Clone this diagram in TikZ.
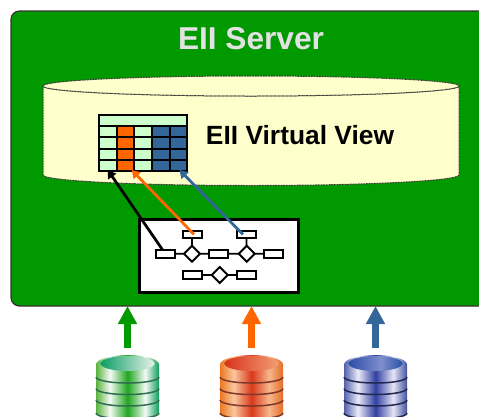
\documentclass[tikz,border=0pt]{standalone}
\usepackage{fontspec}
\setmainfont{Liberation Sans}
\usetikzlibrary{arrows.meta,shapes.geometric}
\definecolor{servergreen}{HTML}{009900}
\definecolor{viewyellow}{HTML}{FFFFCC}
\definecolor{palegreen}{HTML}{CCFFCC}
\definecolor{titlegray}{HTML}{E2E2E2}
\definecolor{orangefill}{HTML}{FF6600}
\definecolor{bluefill}{HTML}{336699}
\definecolor{bandgreen}{HTML}{2F6F50}
\definecolor{bandorange}{HTML}{803828}
\definecolor{bandblue}{HTML}{20284F}
\pgfdeclarehorizontalshading{dbGreenBody}{100bp}{rgb(0bp)=(0.35,0.70,0.25); rgb(25bp)=(0.35,0.70,0.25); rgb(36bp)=(0.96,0.98,0.96); rgb(50bp)=(0.12,0.65,0.12); rgb(64bp)=(0.96,0.98,0.96); rgb(75bp)=(0.05,0.62,0.35); rgb(100bp)=(0.05,0.62,0.35)}
\pgfdeclarehorizontalshading{dbGreenLid}{100bp}{rgb(0bp)=(0.05,0.62,0.40); rgb(25bp)=(0.05,0.62,0.40); rgb(75bp)=(0.90,0.95,0.90); rgb(100bp)=(0.90,0.95,0.90)}
\pgfdeclarehorizontalshading{dbOrangeBody}{100bp}{rgb(0bp)=(0.93,0.47,0.13); rgb(25bp)=(0.93,0.47,0.13); rgb(36bp)=(0.98,0.78,0.62); rgb(50bp)=(0.85,0.22,0.10); rgb(64bp)=(0.97,0.72,0.55); rgb(75bp)=(0.90,0.42,0.15); rgb(100bp)=(0.90,0.42,0.15)}
\pgfdeclarehorizontalshading{dbOrangeLid}{100bp}{rgb(0bp)=(0.85,0.20,0.12); rgb(25bp)=(0.85,0.20,0.12); rgb(75bp)=(0.95,0.62,0.45); rgb(100bp)=(0.95,0.62,0.45)}
\pgfdeclarehorizontalshading{dbBlueBody}{100bp}{rgb(0bp)=(0.32,0.38,0.68); rgb(25bp)=(0.32,0.38,0.68); rgb(36bp)=(0.92,0.92,0.97); rgb(50bp)=(0.19,0.25,0.63); rgb(64bp)=(0.90,0.90,0.96); rgb(75bp)=(0.25,0.32,0.63); rgb(100bp)=(0.25,0.32,0.63)}
\pgfdeclarehorizontalshading{dbBlueLid}{100bp}{rgb(0bp)=(0.18,0.30,0.66); rgb(25bp)=(0.18,0.30,0.66); rgb(55bp)=(0.50,0.56,0.80); rgb(75bp)=(0.16,0.32,0.66); rgb(100bp)=(0.16,0.32,0.66)}
\tikzset{
  flat/.style={rectangle, inner sep=0pt, outer sep=0pt, anchor=north west},
  cellpale/.style={flat, fill=palegreen, minimum width=3.1mm, minimum height=1.86mm},
  cellorange/.style={cellpale, fill=orangefill},
  cellblue/.style={cellpale, fill=bluefill},
  smallbox/.style={flat, draw, fill=white, line width=0.4mm, minimum width=3.8mm, minimum height=1.5mm},
  smalldia/.style={diamond, draw, fill=white, line width=0.4mm, inner sep=0pt, outer sep=0pt, aspect=1, minimum width=3.2mm, minimum height=3.2mm},
  link/.style={line width=0.35mm},
  band/.style={line width=0.3mm},
  thinarrow/.style={line width=0.55mm, -{Triangle[length=1.6mm, width=1.9mm]}},
  bigarrow/.style={line width=1.3mm, shorten <=1.4mm, -{Triangle[length=3.6mm, width=3.6mm]}},
  viewline/.style={draw=black!80, line width=0.2mm, dash pattern=on 0.2mm off 0.12mm}
}
\begin{document}
\begin{tikzpicture}[x=0.2mm, y=-0.2mm]
\useasboundingbox (0,0) rectangle (479,416);

\node (rectServer) [flat, draw=black!80, fill=servergreen, rounded corners=1.7mm, line width=0.25mm, minimum width=96mm, minimum height=59mm] at (11,11) {};
\node (titleServer) [text=titlegray, font=\fontsize{18}{20}\selectfont\bfseries] at (251,39) {EII Server};

% virtual view
\path [viewline, fill=viewyellow] (43,86) -- (43,175) arc[start angle=180, end angle=0, x radius=208, y radius=10.5] -- (459,86) arc[start angle=0, end angle=180, x radius=208, y radius=10] -- cycle;
\path [viewline, fill=viewyellow] (251,86) ellipse [x radius=208, y radius=10];
\node (titleView) [font=\fontsize{15}{18}\selectfont\bfseries] at (300,135) {EII Virtual View};

% table
\node (rectTable) [flat, fill=black, minimum width=18mm, minimum height=11.6mm] at (98,114) {};
\node (rectHead) [cellpale, minimum width=17.2mm, minimum height=1.8mm] at (100,116) {};
\node (cellA0) [cellpale] at (100,127) {};
\node (cellB0) [cellorange] at (117.7,127) {};
\node (cellC0) [cellpale] at (135.3,127) {};
\node (cellD0) [cellblue] at (153,127) {};
\node (cellE0) [cellblue] at (170.7,127) {};
\node (cellA1) [cellpale] at (100,138.3) {};
\node (cellB1) [cellorange] at (117.7,138.3) {};
\node (cellC1) [cellpale] at (135.3,138.3) {};
\node (cellD1) [cellblue] at (153,138.3) {};
\node (cellE1) [cellblue] at (170.7,138.3) {};
\node (cellA2) [cellpale] at (100,149.5) {};
\node (cellB2) [cellorange] at (117.7,149.5) {};
\node (cellC2) [cellpale] at (135.3,149.5) {};
\node (cellD2) [cellblue] at (153,149.5) {};
\node (cellE2) [cellblue] at (170.7,149.5) {};
\node (cellA3) [cellpale] at (100,160.7) {};
\node (cellB3) [cellorange] at (117.7,160.7) {};
\node (cellC3) [cellpale] at (135.3,160.7) {};
\node (cellD3) [cellblue] at (153,160.7) {};
\node (cellE3) [cellblue] at (170.7,160.7) {};

% process box
\node (rectProc) [flat, draw, fill=white, line width=0.45mm, minimum width=31.8mm, minimum height=14.6mm] at (139.5,219.5) {};
\node (boxTopA) [smallbox] at (182.5,230.7) {};
\node (boxTopB) [smallbox] at (237,230.7) {};
\node (boxMidA) [smallbox] at (155.5,250) {};
\node (boxMidB) [smallbox] at (209,250) {};
\node (boxMidC) [smallbox] at (263.5,250) {};
\node (boxLowA) [smallbox] at (182.5,271.3) {};
\node (boxLowB) [smallbox] at (237,271.3) {};
\node (diaA) [smalldia] at (192,253.7) {};
\node (diaB) [smalldia] at (246.7,253.7) {};
\node (diaC) [smalldia] at (219.7,275) {};
\draw [link] (boxTopA) -- (diaA);
\draw [link] (boxTopB) -- (diaB);
\draw [link] (boxMidA) -- (diaA);
\draw [link] (diaA) -- (boxMidB);
\draw [link] (boxMidB) -- (diaB);
\draw [link] (diaB) -- (boxMidC);
\draw [link] (boxLowA) -- (diaC);
\draw [link] (diaC) -- (boxLowB);

\draw [thinarrow, black] ([xshift=-0.5mm, yshift=0.8mm]boxMidA.center) -- (cellA3.south);
\draw [thinarrow, orangefill] ([xshift=0.4mm]boxTopA.center) -- ([xshift=-0.3mm]cellB3.south east);
\draw [thinarrow, bluefill] ([xshift=-0.7mm]boxTopB.center) -- ([xshift=0.2mm]cellE3.south);

% green database
\coordinate (dbGreen) at (127.5,355);
\shade [shading=dbGreenBody] (96,364.5) arc[start angle=180, end angle=360, x radius=31.5, y radius=9.5] -- (159,413) arc[start angle=0, end angle=180, x radius=31.5, y radius=6] -- cycle;
\shade [shading=dbGreenLid] (127.5,363.5) ellipse [x radius=27, y radius=7.5];
\draw [band, bandgreen] (96,377) arc[start angle=180, end angle=0, x radius=31.5, y radius=6];
\draw [band, bandgreen] (96,388.5) arc[start angle=180, end angle=0, x radius=31.5, y radius=6];
\draw [band, bandgreen] (96,400) arc[start angle=180, end angle=0, x radius=31.5, y radius=6];
\draw [band, bandgreen] (96,413) arc[start angle=180, end angle=0, x radius=31.5, y radius=6];
\draw [bigarrow, servergreen] (dbGreen) -- (dbGreen |- rectServer.south);

% orange database
\coordinate (dbOrange) at (251.5,355);
\shade [shading=dbOrangeBody] (220,364.5) arc[start angle=180, end angle=360, x radius=31.5, y radius=9.5] -- (283,413) arc[start angle=0, end angle=180, x radius=31.5, y radius=6] -- cycle;
\shade [shading=dbOrangeLid] (251.5,363.5) ellipse [x radius=27, y radius=7.5];
\draw [band, bandorange] (220,377) arc[start angle=180, end angle=0, x radius=31.5, y radius=6];
\draw [band, bandorange] (220,388.5) arc[start angle=180, end angle=0, x radius=31.5, y radius=6];
\draw [band, bandorange] (220,400) arc[start angle=180, end angle=0, x radius=31.5, y radius=6];
\draw [band, bandorange] (220,413) arc[start angle=180, end angle=0, x radius=31.5, y radius=6];
\draw [bigarrow, orangefill] (dbOrange) -- (dbOrange |- rectServer.south);

% blue database
\coordinate (dbBlue) at (375.5,355);
\shade [shading=dbBlueBody] (344,364.5) arc[start angle=180, end angle=360, x radius=31.5, y radius=9.5] -- (407,413) arc[start angle=0, end angle=180, x radius=31.5, y radius=6] -- cycle;
\shade [shading=dbBlueLid] (375.5,363.5) ellipse [x radius=27, y radius=7.5];
\draw [band, bandblue] (344,377) arc[start angle=180, end angle=0, x radius=31.5, y radius=6];
\draw [band, bandblue] (344,388.5) arc[start angle=180, end angle=0, x radius=31.5, y radius=6];
\draw [band, bandblue] (344,400) arc[start angle=180, end angle=0, x radius=31.5, y radius=6];
\draw [band, bandblue] (344,413) arc[start angle=180, end angle=0, x radius=31.5, y radius=6];
\draw [bigarrow, bluefill] (dbBlue) -- (dbBlue |- rectServer.south);
\end{tikzpicture}
\end{document}
